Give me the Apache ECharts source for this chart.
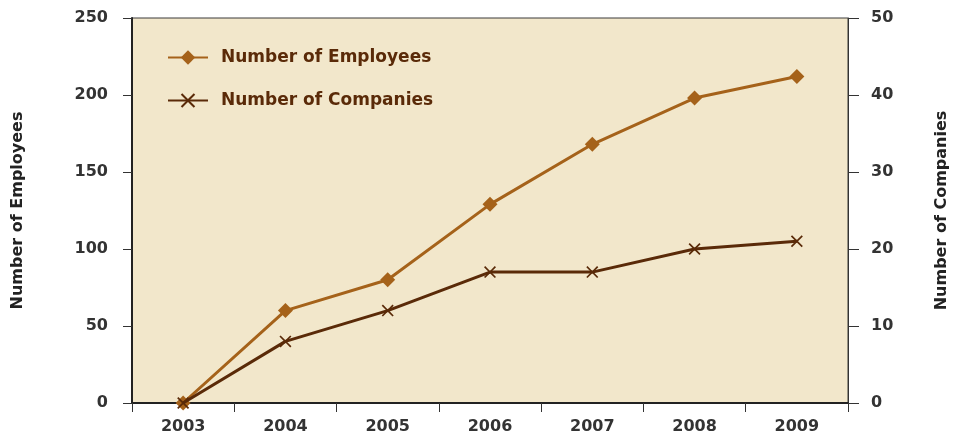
<!DOCTYPE html>
<html>
<head>
<meta charset="utf-8">
<script src="https://cdn.jsdelivr.net/npm/echarts@6/dist/echarts.min.js"></script>
<style>
  html, body { margin: 0; padding: 0; background: #ffffff; }
  #chart { width: 964px; height: 441px; }
</style>
</head>
<body>
<div id="chart"></div>
<script>
const years = ['2003', '2004', '2005', '2006', '2007', '2008', '2009'];
const employees = [0, 60, 80, 129, 168, 198, 212];
const companies = [0, 8, 12, 17, 17, 20, 21];

const font = '"DejaVu Sans", Arial, sans-serif';
const empColor = '#a5621a';
const compColor = '#5a2a08';
const crossPath = 'path://M0,1 L1,0 L5,4 L9,0 L10,1 L6,5 L10,9 L9,10 L5,6 L1,10 L0,9 L4,5 Z';

const chart = echarts.init(document.getElementById('chart'), null, { renderer: 'canvas' });

chart.setOption({
    animation: false,
    backgroundColor: '#ffffff',
    textStyle: { fontFamily: font },
    grid: {
        left: 132, right: 116, top: 18, bottom: 38,
        show: true,
        backgroundColor: '#f2e7cb',
        borderColor: '#3a3a3a',
        borderWidth: 1
    },
    legend: {
        orient: 'vertical',
        left: 162,
        top: 44,
        itemGap: 26,
        itemWidth: 40,
        itemHeight: 18,
        textStyle: {
            color: '#5a2a08', fontWeight: 'bold', fontSize: 17, fontFamily: font,
            padding: [0, 0, 0, 8]
        },
        data: ['Number of Employees', 'Number of Companies']
    },
    xAxis: {
        type: 'category',
        data: years,
        boundaryGap: true,
        axisLine: { lineStyle: { color: '#222222', width: 2 } },
        axisTick: { show: true, length: 9, lineStyle: { color: '#333333', width: 1 } },
        axisLabel: { color: '#333333', fontWeight: 'bold', fontSize: 16, margin: 16, fontFamily: font },
        splitLine: { show: false }
    },
    yAxis: [
        {
            type: 'value',
            min: 0, max: 250, interval: 50,
            name: 'Number of Employees',
            nameLocation: 'middle',
            nameRotate: 90,
            nameGap: 106,
            nameTextStyle: { color: '#222222', fontWeight: 'bold', fontSize: 16, fontFamily: font },
            axisLine: { show: true, lineStyle: { color: '#222222', width: 2 } },
            axisTick: { show: true, length: 9, lineStyle: { color: '#333333' } },
            axisLabel: { color: '#333333', fontWeight: 'bold', fontSize: 16, margin: 24, fontFamily: font },
            splitLine: { show: false }
        },
        {
            type: 'value',
            position: 'right',
            min: 0, max: 50, interval: 10,
            name: 'Number of Companies',
            nameLocation: 'middle',
            nameRotate: 90,
            nameGap: 86,
            nameTextStyle: { color: '#222222', fontWeight: 'bold', fontSize: 16, fontFamily: font },
            axisLine: { show: true, lineStyle: { color: '#333333', width: 1 } },
            axisTick: { show: true, length: 11, lineStyle: { color: '#333333' } },
            axisLabel: { color: '#333333', fontWeight: 'bold', fontSize: 16, margin: 23, fontFamily: font },
            splitLine: { show: false }
        }
    ],
    series: [
        {
            name: 'Number of Employees',
            type: 'line',
            yAxisIndex: 0,
            data: employees,
            symbol: 'diamond',
            symbolSize: 15,
            lineStyle: { color: empColor, width: 3 },
            itemStyle: { color: empColor },
            z: 3
        },
        {
            name: 'Number of Companies',
            type: 'line',
            yAxisIndex: 1,
            data: companies,
            symbol: crossPath,
            symbolSize: 12,
            lineStyle: { color: compColor, width: 3 },
            itemStyle: { color: compColor },
            z: 4
        }
    ]
});
</script>
</body>
</html>
